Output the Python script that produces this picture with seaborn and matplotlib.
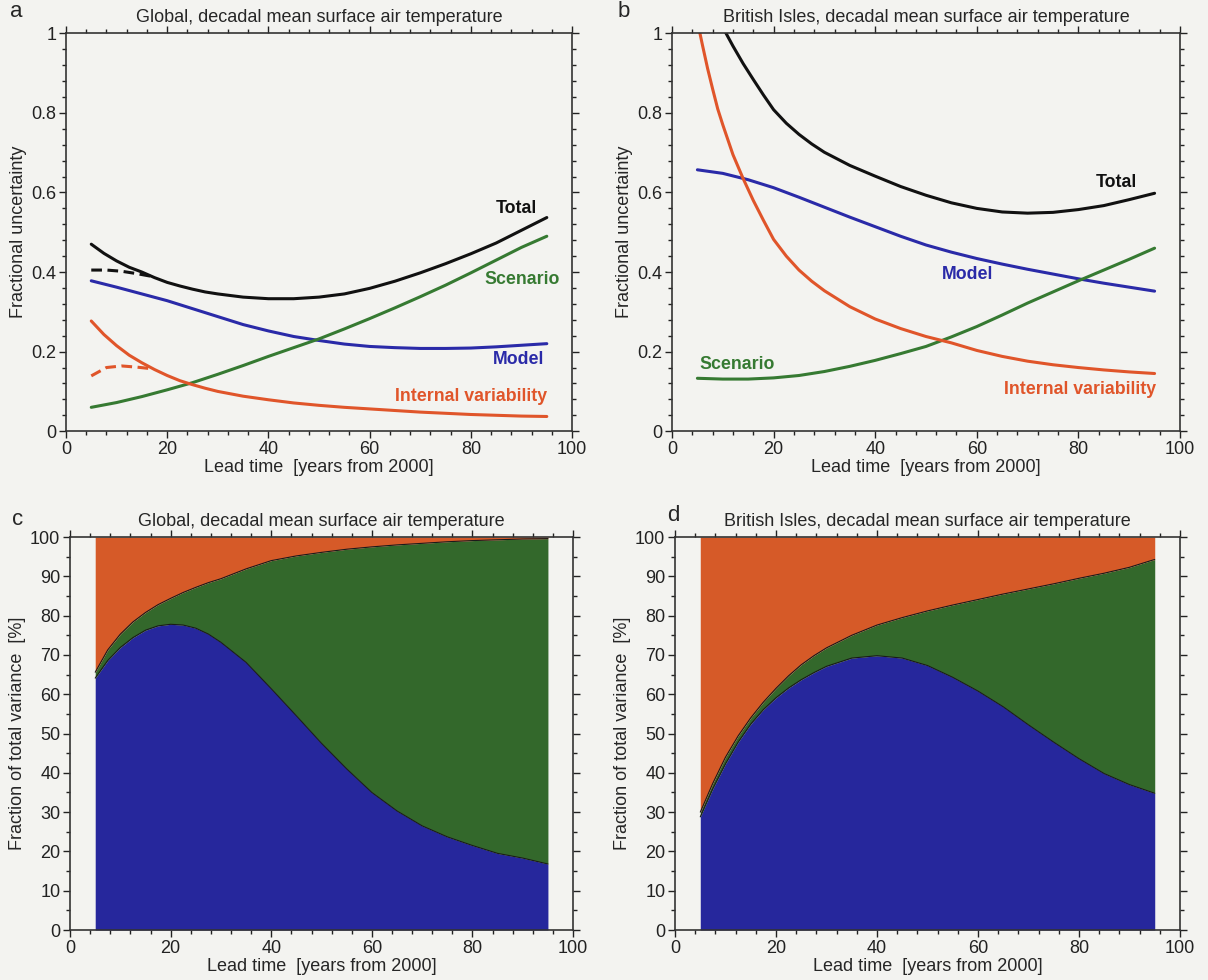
import numpy as np
import pandas as pd
import matplotlib
matplotlib.use("Agg")
import matplotlib.pyplot as plt
from matplotlib.ticker import AutoMinorLocator, MultipleLocator
import seaborn as sns

# ---------------- data ----------------
# regular 5-year lead times
lead = [5, 10, 15, 20, 25, 30, 35, 40, 45, 50, 55, 60, 65, 70, 75, 80, 85, 90, 95]
# denser lead times for strongly curved series
lead_fine = [5, 7.5, 10, 12.5, 15, 17.5, 20, 22.5, 25, 27.5, 30, 35, 40, 45, 50,
             55, 60, 65, 70, 75, 80, 85, 90, 95]
lead_b = [5, 6, 7, 8, 9, 10, 12, 14, 16, 18, 20, 22.5, 25, 27.5, 30, 35, 40, 45, 50,
          55, 60, 65, 70, 75, 80, 85, 90, 95]

# Panel a: global, fractional uncertainty
glob_total = [0.470, 0.447, 0.428, 0.412, 0.400, 0.386, 0.374, 0.365, 0.357, 0.350,
              0.345, 0.337, 0.333, 0.333, 0.337, 0.345, 0.359, 0.377, 0.398, 0.421,
              0.446, 0.473, 0.505, 0.537]                                   # lead_fine
glob_model = [0.378, 0.362, 0.345, 0.328, 0.308, 0.288, 0.268, 0.252, 0.238, 0.228,
              0.219, 0.213, 0.210, 0.208, 0.208, 0.209, 0.212, 0.216, 0.220]  # lead
glob_scen = [0.060, 0.072, 0.087, 0.104, 0.122, 0.143, 0.165, 0.188, 0.210, 0.232,
             0.257, 0.283, 0.310, 0.338, 0.367, 0.398, 0.430, 0.462, 0.490]   # lead
glob_int = [0.277, 0.243, 0.215, 0.191, 0.172, 0.155, 0.140, 0.127, 0.117, 0.108,
            0.100, 0.088, 0.079, 0.071, 0.065, 0.060, 0.056, 0.052, 0.048, 0.045,
            0.042, 0.040, 0.038, 0.037]                                     # lead_fine
lead_dash = [5, 8, 11, 14, 17]
glob_total_dash = [0.405, 0.405, 0.402, 0.396, 0.389]
glob_int_dash = [0.139, 0.160, 0.164, 0.161, 0.157]

# Panel b: British Isles, fractional uncertainty
bi_total = [1.220, 1.170, 1.120, 1.080, 1.045, 1.015, 0.968, 0.924, 0.884, 0.845,
            0.808, 0.774, 0.746, 0.722, 0.701, 0.668, 0.641, 0.615, 0.593, 0.574,
            0.560, 0.551, 0.548, 0.550, 0.557, 0.567, 0.582, 0.598]          # lead_b
bi_model = [0.657, 0.648, 0.632, 0.612, 0.588, 0.563, 0.538, 0.514, 0.490, 0.468,
            0.450, 0.434, 0.420, 0.407, 0.395, 0.383, 0.372, 0.362, 0.352]   # lead
bi_scen = [0.133, 0.131, 0.131, 0.134, 0.140, 0.150, 0.163, 0.178, 0.195, 0.213,
           0.237, 0.263, 0.292, 0.322, 0.350, 0.378, 0.405, 0.432, 0.460]    # lead
bi_int = [1.030, 0.970, 0.912, 0.860, 0.810, 0.770, 0.695, 0.635, 0.580, 0.530,
          0.482, 0.440, 0.405, 0.377, 0.353, 0.313, 0.282, 0.258, 0.238, 0.222,
          0.203, 0.188, 0.176, 0.167, 0.160, 0.154, 0.149, 0.145]            # lead_b

# Panel c: global, fraction of total variance [%]   (lead_fine)
glob_model_pct = [64.1, 68.6, 71.9, 74.4, 76.3, 77.4, 77.8, 77.6, 76.8, 75.3,
                  73.2, 68.1, 61.4, 54.5, 47.5, 41.0, 35.0, 30.3, 26.5, 23.7,
                  21.5, 19.5, 18.3, 16.8]
glob_scen_pct = [1.5, 2.7, 3.4, 4.0, 4.5, 5.4, 6.6, 8.3, 10.4, 13.1,
                 16.2, 23.8, 32.6, 40.7, 48.6, 55.9, 62.5, 67.7, 71.9, 75.1,
                 77.6, 79.8, 81.2, 82.8]

# Panel d: British Isles, fraction of total variance [%]   (lead_fine)
bi_model_pct = [28.8, 36.0, 42.3, 47.8, 52.4, 56.1, 59.1, 61.6, 63.7, 65.5,
                67.1, 69.2, 69.8, 69.2, 67.3, 64.3, 60.8, 56.8, 52.2, 47.8,
                43.6, 39.8, 37.0, 34.8]
bi_scen_pct = [1.2, 1.4, 1.7, 1.6, 1.6, 1.9, 2.4, 3.1, 3.8, 4.3,
               4.7, 5.8, 7.8, 10.3, 13.9, 18.4, 23.3, 28.7, 34.6, 40.3,
               45.9, 51.0, 55.3, 59.5]

titles = ["Global, decadal mean surface air temperature",
          "British Isles, decadal mean surface air temperature"]
panel_letters = ["a", "b", "c", "d"]
xlabel = "Lead time  [years from 2000]"
ylabel_top = "Fractional uncertainty"
ylabel_bot = "Fraction of total variance  [%]"
yticklabels_top = ["0", "0.2", "0.4", "0.6", "0.8", "1"]

# ---------------- style ----------------
sns.set_theme(style="ticks")
BG = "#f3f3f0"
plt.rcParams["font.family"] = ["Liberation Sans", "DejaVu Sans"]
plt.rcParams["axes.facecolor"] = BG
plt.rcParams["figure.facecolor"] = BG

C_TOTAL = "#111111"
C_MODEL = "#2a2aa8"
C_SCEN = "#367a32"
C_INT = "#e0552a"
F_MODEL = "#26279c"
F_SCEN = "#33682b"
F_INT = "#d65a28"

fig = plt.figure(figsize=(12.08, 9.8), dpi=100)
ax_a = fig.add_axes([0.0546, 0.560, 0.419, 0.406])
ax_b = fig.add_axes([0.5563, 0.560, 0.4205, 0.406])
ax_c = fig.add_axes([0.0580, 0.051, 0.4164, 0.401])
ax_d = fig.add_axes([0.5588, 0.051, 0.4180, 0.401])


def style_axes(ax, top):
    ax.set_xlim(0, 100)
    ax.xaxis.set_major_locator(MultipleLocator(20))
    ax.xaxis.set_minor_locator(AutoMinorLocator(5))
    if top:
        ax.set_ylim(0, 1)
        ax.set_yticks([0, 0.2, 0.4, 0.6, 0.8, 1.0])
        ax.set_yticklabels(yticklabels_top)
        ax.yaxis.set_minor_locator(AutoMinorLocator(5))
    else:
        ax.set_ylim(0, 100)
        ax.yaxis.set_major_locator(MultipleLocator(10))
        ax.yaxis.set_minor_locator(AutoMinorLocator(2))
    ax.tick_params(which="both", direction="out", top=True, right=True,
                   labeltop=False, labelright=False, colors="#222222",
                   labelsize=13, width=1.0)
    ax.tick_params(which="major", length=5, pad=2)
    ax.tick_params(which="minor", length=3)
    for s in ax.spines.values():
        s.set_visible(True)
        s.set_color("#333333")
        s.set_linewidth(1.2)
    ax.set_xlabel(xlabel, fontsize=13, labelpad=1)
    ax.set_ylabel(ylabel_top if top else ylabel_bot, fontsize=13, labelpad=3)


def line(ax, x, y, color, ls="-"):
    sns.lineplot(x=x, y=y, ax=ax, color=color, lw=2.2, linestyle=ls)


DASH = (0, (3.5, 1.8))

# Panel a
line(ax_a, lead_fine, glob_total, C_TOTAL)
line(ax_a, lead, glob_model, C_MODEL)
line(ax_a, lead, glob_scen, C_SCEN)
line(ax_a, lead_fine, glob_int, C_INT)
line(ax_a, lead_dash, glob_total_dash, C_TOTAL, DASH)
line(ax_a, lead_dash, glob_int_dash, C_INT, DASH)
lab_kw = dict(fontsize=12.8, fontweight="bold", ha="right", va="center")
ax_a.text(93, 0.56, "Total", color=C_TOTAL, **lab_kw)
ax_a.text(97.5, 0.381, "Scenario", color=C_SCEN, **lab_kw)
ax_a.text(94.5, 0.181, "Model", color=C_MODEL, **lab_kw)
ax_a.text(95, 0.087, "Internal variability", color=C_INT, **lab_kw)

# Panel b
line(ax_b, lead_b, bi_total, C_TOTAL)
line(ax_b, lead, bi_model, C_MODEL)
line(ax_b, lead, bi_scen, C_SCEN)
line(ax_b, lead_b, bi_int, C_INT)
ax_b.text(91.5, 0.624, "Total", color=C_TOTAL, **lab_kw)
ax_b.text(63.2, 0.393, "Model", color=C_MODEL, **lab_kw)
ax_b.text(20.3, 0.167, "Scenario", color=C_SCEN, **lab_kw)
ax_b.text(95.3, 0.106, "Internal variability", color=C_INT, **lab_kw)


def stacked(ax, model_pct, scen_pct):
    df = pd.DataFrame({"lead": lead_fine, "model": model_pct, "scen": scen_pct})
    df["lower"] = df["model"]
    df["upper"] = df["model"] + df["scen"]
    ax.fill_between(df["lead"], 0, df["lower"], color=F_MODEL, lw=0)
    ax.fill_between(df["lead"], df["lower"], df["upper"], color=F_SCEN, lw=0)
    ax.fill_between(df["lead"], df["upper"], 100, color=F_INT, lw=0)
    sns.lineplot(data=df, x="lead", y="lower", ax=ax, color="#1a1a1a", lw=0.8)
    sns.lineplot(data=df, x="lead", y="upper", ax=ax, color="#1a1a1a", lw=0.8)


stacked(ax_c, glob_model_pct, glob_scen_pct)
stacked(ax_d, bi_model_pct, bi_scen_pct)

for ax, top in [(ax_a, True), (ax_b, True), (ax_c, False), (ax_d, False)]:
    style_axes(ax, top)

for ax, t in [(ax_a, titles[0]), (ax_b, titles[1]), (ax_c, titles[0]), (ax_d, titles[1])]:
    ax.set_title(t, fontsize=13, pad=8)

fig.text(0.008, 0.988, panel_letters[0], fontsize=16, va="center", ha="left")
fig.text(0.511, 0.988, panel_letters[1], fontsize=16, va="center", ha="left")
fig.text(0.010, 0.470, panel_letters[2], fontsize=16, va="center", ha="left")
fig.text(0.552, 0.474, panel_letters[3], fontsize=16, va="center", ha="left")

fig.savefig("out.png", dpi=100, facecolor=BG)
